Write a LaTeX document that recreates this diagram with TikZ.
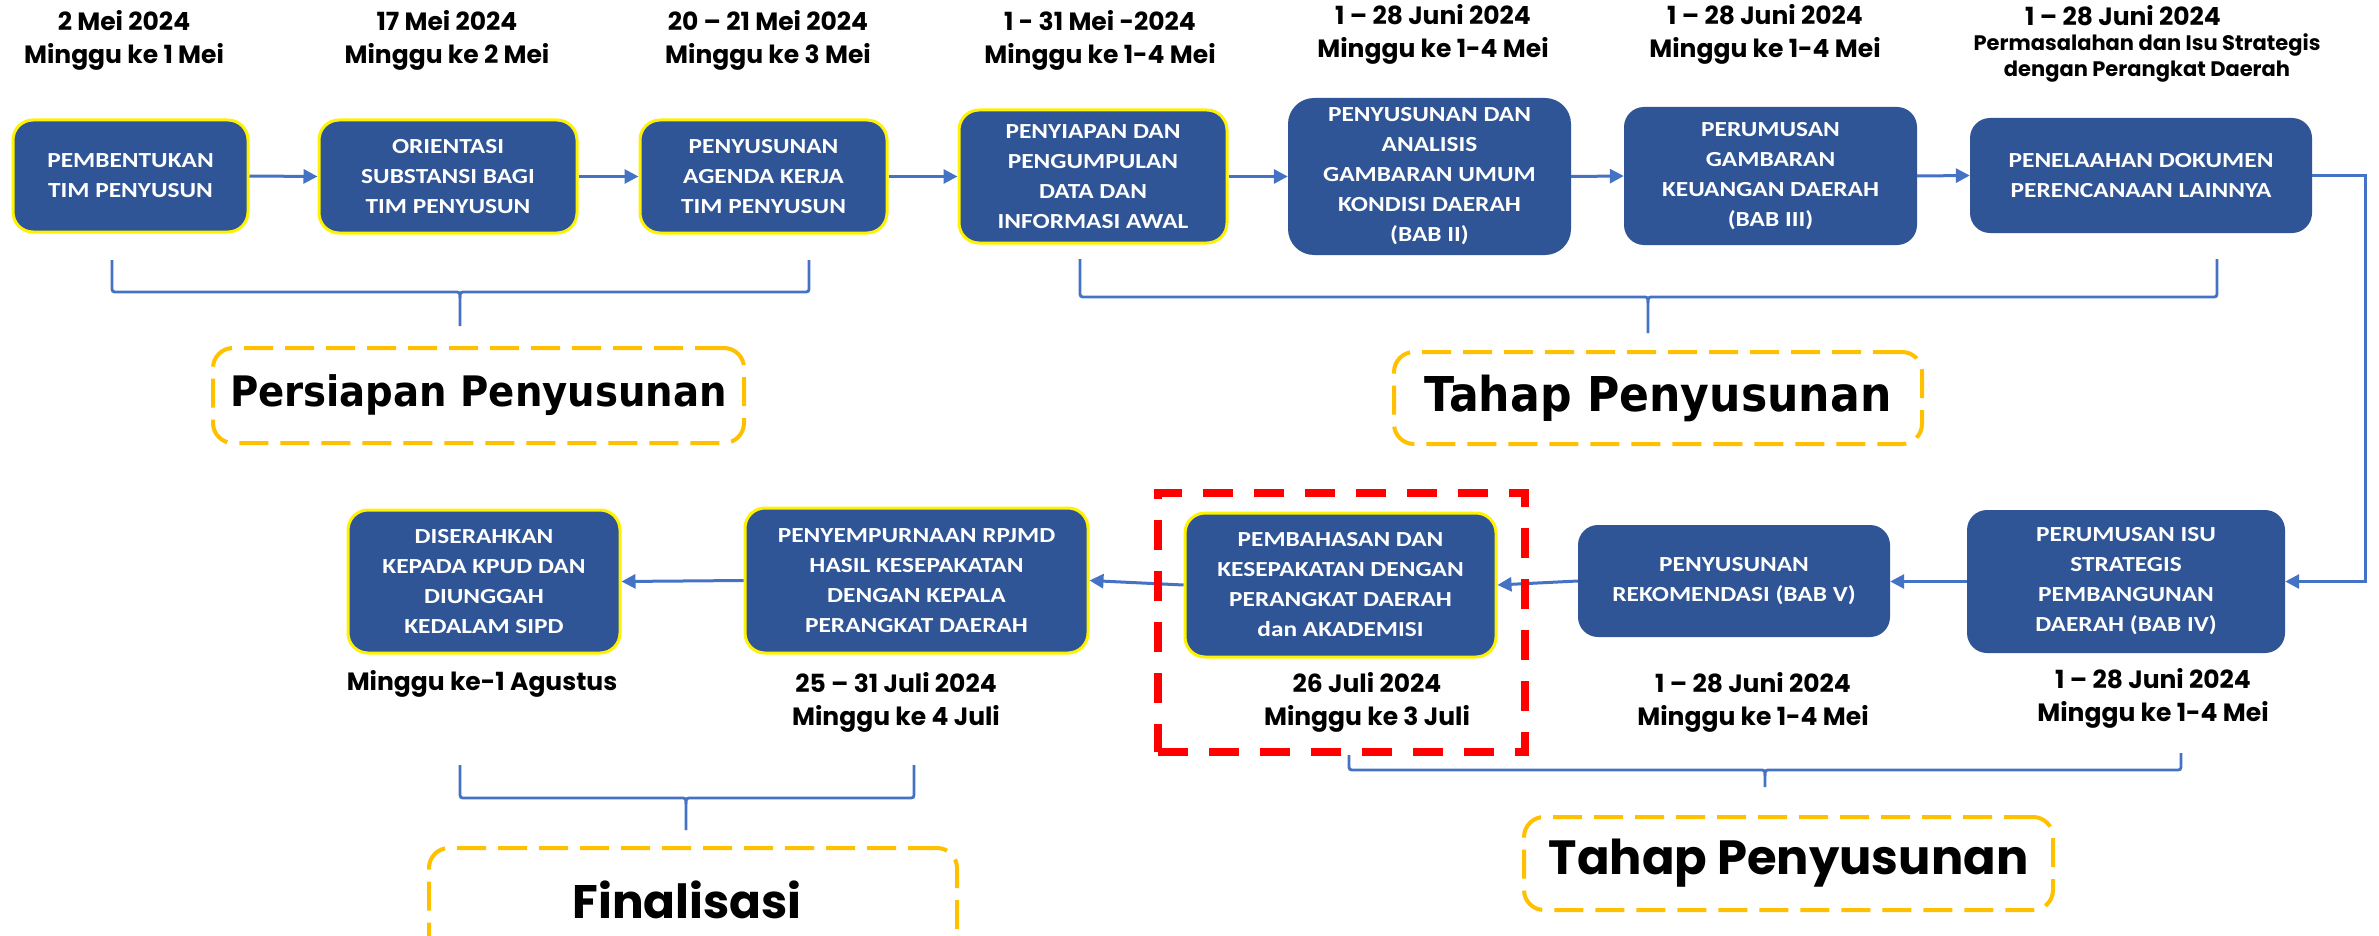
\documentclass[tikz,border=0pt]{standalone}
\usepackage{fontspec}
\usetikzlibrary{arrows.meta}
\newfontfamily\boxfont[FakeStretch=1.18]{Carlito}
\newfontfamily\datefont{Poppins}
\newfontfamily\dvfont[FakeStretch=0.92]{DejaVu Sans}
\definecolor{boxblue}{RGB}{47,85,151}
\definecolor{lineblue}{RGB}{68,114,196}
\definecolor{gold}{RGB}{255,192,0}
\tikzset{
  stepbox/.style={rectangle, rounded corners=20pt, fill=boxblue, text=white, align=center, inner sep=0pt,
    font=\boxfont\bfseries\fontsize{21.5}{30}\selectfont},
  ybox/.style={stepbox, draw=yellow, line width=3pt},
  arr/.style={draw=lineblue, line width=3pt, -{Triangle[length=14pt,width=14pt]}},
  brace/.style={draw=lineblue, line width=2.8pt},
  datelbl/.style={align=center, inner sep=0pt, font=\datefont\bfseries\fontsize{25}{33}\selectfont},
  phase/.style={rectangle, rounded corners=20pt, draw=gold, line width=4pt, dash pattern=on 29pt off 12pt, inner sep=0pt},
}
\begin{document}
\begin{tikzpicture}[x=1pt,y=-1pt]
\clip (0,0) rectangle (2379,936);
\fill[white] (0,0) rectangle (2379,936);

% ---- top row dates
\node[datelbl] (d1) at (124,40.5) {2 Mei 2024\\Minggu ke 1 Mei};
\node[datelbl] (d2) at (447,40.5) {17 Mei 2024\\Minggu ke 2 Mei};
\node[datelbl] (d3) at (768,40.5) {20 – 21 Mei 2024\\Minggu ke 3 Mei};
\node[datelbl] (d4) at (1100,40) {1 - 31 Mei -2024\\Minggu ke 1-4 Mei};
\node[datelbl] (d5) at (1433,34) {1 – 28 Juni 2024\\Minggu ke 1-4 Mei};
\node[datelbl] (d6) at (1765,34.5) {1 – 28 Juni 2024\\Minggu ke 1-4 Mei};
\node[datelbl] (d7a) at (2123,16) {1 – 28 Juni 2024};
\node[datelbl, font=\datefont\bfseries\fontsize{21}{26}\selectfont] (d7b) at (2147,58) {Permasalahan dan Isu Strategis\\dengan Perangkat Daerah};

% ---- top row boxes
\node[ybox, minimum width=235pt, minimum height=112pt] (b1) at (130.5,176) {PEMBENTUKAN\\TIM PENYUSUN};
\node[ybox, minimum width=258pt, minimum height=113pt] (b2) at (448,176.5) {ORIENTASI\\SUBSTANSI BAGI\\TIM PENYUSUN};
\node[ybox, minimum width=247pt, minimum height=113pt] (b3) at (763.5,176.5) {PENYUSUNAN\\AGENDA KERJA\\TIM PENYUSUN};
\node[ybox, minimum width=268pt, minimum height=133pt] (b4) at (1093,176.5) {PENYIAPAN DAN\\PENGUMPULAN\\DATA DAN\\INFORMASI AWAL};
\node[stepbox, rounded corners=26pt, minimum width=283pt, minimum height=157pt] (b5) at (1429.5,176.5) {PENYUSUNAN DAN\\ANALISIS\\GAMBARAN UMUM\\KONDISI DAERAH\\(BAB II)};
\node[stepbox, minimum width=293pt, minimum height=138pt] (b6) at (1770.5,176) {PERUMUSAN\\GAMBARAN\\KEUANGAN DAERAH\\(BAB III)};
\node[stepbox, minimum width=342pt, minimum height=115pt] (b7) at (2141,175.5) {PENELAAHAN DOKUMEN\\PERENCANAAN LAINNYA};

\draw[arr] (b1.east) -- (b2.west);
\draw[arr] (b2.east) -- (b3.west);
\draw[arr] (b3.east) -- (b4.west);
\draw[arr] (b4.east) -- (b5.west);
\draw[arr] (b5.east) -- (b6.west);
\draw[arr] (b6.east) -- (b7.west);

% ---- bottom row boxes
\node[stepbox, minimum width=318pt, minimum height=143pt] (c1) at (2126,581.5) {PERUMUSAN ISU\\STRATEGIS\\PEMBANGUNAN\\DAERAH (BAB IV)};
\node[stepbox, minimum width=312pt, minimum height=112pt] (c2) at (1734,581) {PENYUSUNAN\\REKOMENDASI (BAB V)};
\node[ybox, minimum width=311pt, minimum height=144pt] (c3) at (1340.5,585) {PEMBAHASAN DAN\\KESEPAKATAN DENGAN\\PERANGKAT DAERAH\\dan AKADEMISI};
\node[ybox, minimum width=343pt, minimum height=145pt] (c4) at (916.5,580.5) {PENYEMPURNAAN RPJMD\\HASIL KESEPAKATAN\\DENGAN KEPALA\\PERANGKAT DAERAH};
\node[ybox, minimum width=272pt, minimum height=143pt] (c5) at (484,581.5) {DISERAHKAN\\KEPADA KPUD DAN\\DIUNGGAH\\KEDALAM SIPD};

\draw[arr] (b7.east) -- ++(53,0) |- (c1.east);
\draw[arr] (c1.west) -- (c1.west -| c2.east);
\draw[arr] (c2.west) -- (c3.east);
\draw[arr] (c3.west) -- (c4.east);
\draw[arr] (c4.west) -- (c5.east);

% ---- bottom dates
\node[datelbl] (e1) at (482,684) {Minggu ke-1 Agustus};
\node[datelbl] (e2) at (896,702) {25 – 31 Juli 2024\\Minggu ke 4 Juli};
\node[datelbl] (e3) at (1367,702) {26 Juli 2024\\Minggu ke 3 Juli};
\node[datelbl] (e4) at (1753,702) {1 – 28 Juni 2024\\Minggu ke 1-4 Mei};
\node[datelbl] (e5) at (2153,698) {1 – 28 Juni 2024\\Minggu ke 1-4 Mei};

% ---- red focus frame
\node[draw=red, line width=7.5pt, dash pattern=on 30pt off 21pt, minimum width=367pt, minimum height=259pt, inner sep=0pt] (focus) at (1341.5,622.5) {};

% ---- braces
\draw[brace] (112,260) -- (112,286) .. controls (112,292) .. (118,292) -- (454,292) .. controls (460,292) .. (460,298) -- (460,326);
\draw[brace] (460,298) .. controls (460,292) .. (466,292) -- (803,292) .. controls (809,292) .. (809,286) -- (809,260);

\draw[brace] (1080,259) -- (1080,291) .. controls (1080,297) .. (1086,297) -- (1642,297) .. controls (1648,297) .. (1648,303) -- (1648,333);
\draw[brace] (1648,303) .. controls (1648,297) .. (1654,297) -- (2211,297) .. controls (2217,297) .. (2217,291) -- (2217,259);

\draw[brace] (1349,755) -- (1349,764) .. controls (1349,770) .. (1355,770) -- (1759,770) .. controls (1765,770) .. (1765,776) -- (1765,787);
\draw[brace] (1765,776) .. controls (1765,770) .. (1771,770) -- (2175,770) .. controls (2181,770) .. (2181,764) -- (2181,753);

\draw[brace] (460,765) -- (460,792) .. controls (460,798) .. (466,798) -- (680,798) .. controls (686,798) .. (686,804) -- (686,830);
\draw[brace] (686,804) .. controls (686,798) .. (692,798) -- (908,798) .. controls (914,798) .. (914,792) -- (914,765);

% ---- phase labels
\node[phase, minimum width=531pt, minimum height=95pt, font=\dvfont\bfseries\fontsize{42}{50}\selectfont] (p1) at (478.5,395.5) {Persiapan Penyusunan};
\node[phase, minimum width=528pt, minimum height=92pt, font=\dvfont\bfseries\fontsize{48}{56}\selectfont] (t1) at (1658,398) {Tahap Penyusunan};
\node[phase, minimum width=529pt, minimum height=93pt, font=\datefont\bfseries\fontsize{48}{56}\selectfont] (t2) at (1788.5,863.5) {Tahap Penyusunan};
\node[phase, minimum width=528pt, minimum height=130pt] (f1) at (693,913) {};
\node[font=\datefont\bfseries\fontsize{47}{56}\selectfont, inner sep=0pt] (f1t) at (687,900) {Finalisasi};
\end{tikzpicture}
\end{document}
